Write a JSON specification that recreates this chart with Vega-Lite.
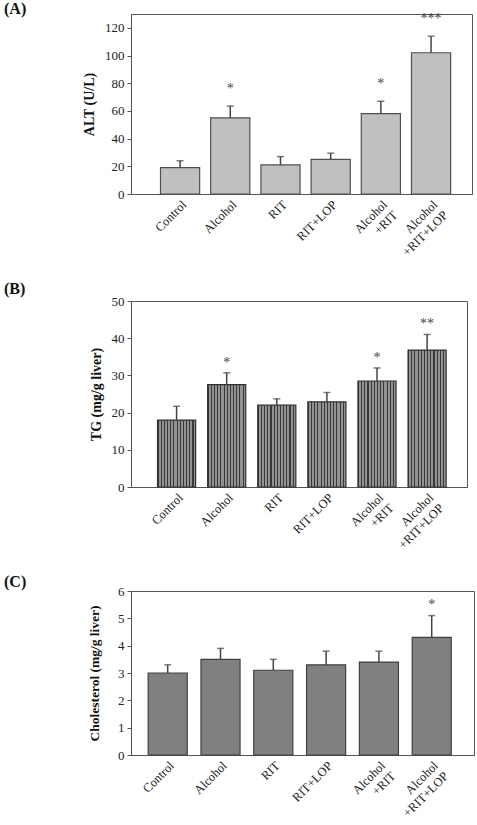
{
  "$schema": "https://vega.github.io/schema/vega-lite/v6.json",
  "padding": {"left": 3, "top": 0, "right": 4, "bottom": 0},
  "background": "white",
  "datasets": {
    "alt": [
      {"group": "Control", "mean": 19, "upper": 24, "sig": ""},
      {"group": "Alcohol", "mean": 55, "upper": 63.5, "sig": "*"},
      {"group": "RIT", "mean": 21, "upper": 27, "sig": ""},
      {"group": "RIT+LOP", "mean": 25, "upper": 29.5, "sig": ""},
      {"group": "Alcohol\n+RIT", "mean": 58, "upper": 67, "sig": "*"},
      {"group": "Alcohol\n+RIT+LOP", "mean": 102, "upper": 114, "sig": "***"}
    ],
    "tg": [
      {"group": "Control", "mean": 18, "upper": 21.7, "sig": ""},
      {"group": "Alcohol", "mean": 27.5, "upper": 30.7, "sig": "*"},
      {"group": "RIT", "mean": 22, "upper": 23.7, "sig": ""},
      {"group": "RIT+LOP", "mean": 22.9, "upper": 25.4, "sig": ""},
      {"group": "Alcohol\n+RIT", "mean": 28.5, "upper": 32, "sig": "*"},
      {"group": "Alcohol\n+RIT+LOP", "mean": 36.8, "upper": 41, "sig": "**"}
    ],
    "chol": [
      {"group": "Control", "mean": 3.0, "upper": 3.3, "sig": ""},
      {"group": "Alcohol", "mean": 3.5, "upper": 3.9, "sig": ""},
      {"group": "RIT", "mean": 3.1, "upper": 3.5, "sig": ""},
      {"group": "RIT+LOP", "mean": 3.3, "upper": 3.8, "sig": ""},
      {"group": "Alcohol\n+RIT", "mean": 3.4, "upper": 3.8, "sig": ""},
      {"group": "Alcohol\n+RIT+LOP", "mean": 4.3, "upper": 5.1, "sig": "*"}
    ]
  },
  "vconcat": [
    {
      "width": 341,
      "height": 180,
      "title": {"text": "(A)", "dx": -127, "offset": -5},
      "data": {"name": "alt"},
      "encoding": {
        "x": {"field": "group", "type": "nominal", "sort": null, "title": null,
              "scale": {"paddingInner": 0.22, "paddingOuter": 0.5065, "align": 0.58},
              "axis": {"labelExpr": "split(datum.label, '\\n')"}},
        "y": {"field": "mean", "type": "quantitative", "title": "ALT (U/L)",
              "scale": {"domain": [0, 130], "nice": false},
              "axis": {"values": [0, 20, 40, 60, 80, 100, 120], "titlePadding": 8}}
      },
      "layer": [
        {"mark": {"type": "bar", "fill": "#c0c0c0", "stroke": "#505050", "strokeWidth": 1.2}},
        {"mark": {"type": "rule", "color": "#444", "strokeWidth": 1.5},
         "encoding": {"y2": {"field": "upper"}}},
        {"mark": {"type": "tick", "color": "#444", "thickness": 1.5, "size": 7},
         "encoding": {"y": {"field": "upper", "type": "quantitative"}}},
        {"mark": {"type": "text", "fontSize": 14, "color": "#444", "dy": -13, "baseline": "alphabetic"},
         "encoding": {"y": {"field": "upper", "type": "quantitative"}, "text": {"field": "sig"}}}
      ]
    },
    {
      "width": 336,
      "height": 186,
      "title": {"text": "(B)", "dx": -127, "offset": -2},
      "data": {"name": "tg"},
      "encoding": {
        "x": {"field": "group", "type": "nominal", "sort": null, "title": null,
              "scale": {"paddingInner": 0.24, "paddingOuter": 0.473, "align": 0.56},
              "axis": {"labelExpr": "split(datum.label, '\\n')"}},
        "y": {"field": "mean", "type": "quantitative", "title": "TG (mg/g liver)",
              "scale": {"domain": [0, 50], "nice": false},
              "axis": {"values": [0, 10, 20, 30, 40, 50], "titlePadding": 8}}
      },
      "layer": [
        {"mark": {"type": "bar", "stroke": "#303030", "strokeWidth": 1.2,
                  "fill": {"gradient": "linear", "x1": 0, "y1": 0, "x2": 1, "y2": 0,
                           "stops": [
                             {"offset": 0, "color": "#383838"}, {"offset": 0.028, "color": "#383838"}, {"offset": 0.028, "color": "#929292"}, {"offset": 0.0833, "color": "#929292"},
                             {"offset": 0.0833, "color": "#383838"}, {"offset": 0.1113, "color": "#383838"}, {"offset": 0.1113, "color": "#929292"}, {"offset": 0.1667, "color": "#929292"},
                             {"offset": 0.1667, "color": "#383838"}, {"offset": 0.1947, "color": "#383838"}, {"offset": 0.1947, "color": "#929292"}, {"offset": 0.25, "color": "#929292"},
                             {"offset": 0.25, "color": "#383838"}, {"offset": 0.278, "color": "#383838"}, {"offset": 0.278, "color": "#929292"}, {"offset": 0.3333, "color": "#929292"},
                             {"offset": 0.3333, "color": "#383838"}, {"offset": 0.3613, "color": "#383838"}, {"offset": 0.3613, "color": "#929292"}, {"offset": 0.4167, "color": "#929292"},
                             {"offset": 0.4167, "color": "#383838"}, {"offset": 0.4447, "color": "#383838"}, {"offset": 0.4447, "color": "#929292"}, {"offset": 0.5, "color": "#929292"},
                             {"offset": 0.5, "color": "#383838"}, {"offset": 0.528, "color": "#383838"}, {"offset": 0.528, "color": "#929292"}, {"offset": 0.5833, "color": "#929292"},
                             {"offset": 0.5833, "color": "#383838"}, {"offset": 0.6113, "color": "#383838"}, {"offset": 0.6113, "color": "#929292"}, {"offset": 0.6667, "color": "#929292"},
                             {"offset": 0.6667, "color": "#383838"}, {"offset": 0.6947, "color": "#383838"}, {"offset": 0.6947, "color": "#929292"}, {"offset": 0.75, "color": "#929292"},
                             {"offset": 0.75, "color": "#383838"}, {"offset": 0.778, "color": "#383838"}, {"offset": 0.778, "color": "#929292"}, {"offset": 0.8333, "color": "#929292"},
                             {"offset": 0.8333, "color": "#383838"}, {"offset": 0.8613, "color": "#383838"}, {"offset": 0.8613, "color": "#929292"}, {"offset": 0.9167, "color": "#929292"},
                             {"offset": 0.9167, "color": "#383838"}, {"offset": 0.9447, "color": "#383838"}, {"offset": 0.9447, "color": "#929292"}, {"offset": 1, "color": "#929292"}
                           ]}}},
        {"mark": {"type": "rule", "color": "#444", "strokeWidth": 1.5},
         "encoding": {"y2": {"field": "upper"}}},
        {"mark": {"type": "tick", "color": "#444", "thickness": 1.5, "size": 7},
         "encoding": {"y": {"field": "upper", "type": "quantitative"}}},
        {"mark": {"type": "text", "fontSize": 14, "color": "#444", "dy": -6, "baseline": "alphabetic"},
         "encoding": {"y": {"field": "upper", "type": "quantitative"}, "text": {"field": "sig"}}}
      ]
    },
    {
      "width": 343,
      "height": 164,
      "title": {"text": "(C)", "dx": -127, "offset": -5},
      "data": {"name": "chol"},
      "encoding": {
        "x": {"field": "group", "type": "nominal", "sort": null, "title": null,
              "scale": {"paddingInner": 0.26, "paddingOuter": 0.378, "align": 0.43},
              "axis": {"labelExpr": "split(datum.label, '\\n')"}},
        "y": {"field": "mean", "type": "quantitative", "title": "Cholesterol (mg/g liver)",
              "scale": {"domain": [0, 6], "nice": false},
              "axis": {"values": [0, 1, 2, 3, 4, 5, 6], "titlePadding": 16, "titleFontSize": 13.5}}
      },
      "layer": [
        {"mark": {"type": "bar", "fill": "#808080", "stroke": "#404040", "strokeWidth": 1.2}},
        {"mark": {"type": "rule", "color": "#444", "strokeWidth": 1.5},
         "encoding": {"y2": {"field": "upper"}}},
        {"mark": {"type": "tick", "color": "#444", "thickness": 1.5, "size": 7},
         "encoding": {"y": {"field": "upper", "type": "quantitative"}}},
        {"mark": {"type": "text", "fontSize": 14, "color": "#444", "dy": -7, "baseline": "alphabetic"},
         "encoding": {"y": {"field": "upper", "type": "quantitative"}, "text": {"field": "sig"}}}
      ]
    }
  ],
  "spacing": 21,
  "config": {
    "font": "Liberation Serif",
    "view": {"stroke": "#555", "strokeWidth": 1},
    "title": {"anchor": "start", "frame": "group", "font": "Liberation Serif", "fontSize": 16, "fontWeight": "bold", "color": "#111"},
    "axis": {"grid": false, "labelFont": "Liberation Serif", "labelColor": "#222", "titleFont": "Liberation Serif", "labelOverlap": false,
             "titleFontWeight": "bold", "titleFontSize": 14, "titleColor": "#111", "domainColor": "#555", "tickColor": "#555"},
    "axisX": {"ticks": false, "labelAngle": -45, "labelFontSize": 12.5, "labelPadding": 4},
    "axisY": {"tickSize": 4, "labelFontSize": 13, "labelPadding": 3}
  }
}
